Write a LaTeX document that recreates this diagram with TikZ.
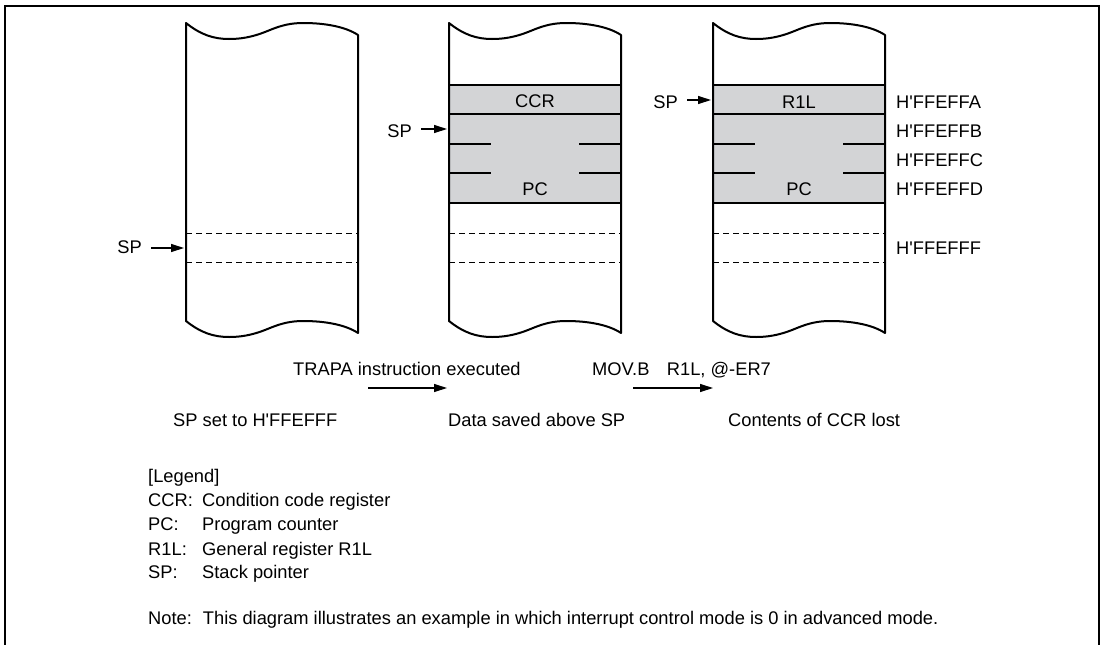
\documentclass[tikz,border=0pt]{standalone}
\usepackage{fontspec}
\newfontfamily\lib{Liberation Sans}
\usetikzlibrary{arrows.meta}
\definecolor{cellgray}{RGB}{211,212,214}
\tikzset{
  colline/.style={line width=2pt, line join=round},
  rowline/.style={line width=2pt},
  dline/.style={line width=1pt, dash pattern=on 6pt off 4pt},
  lbl/.style={font=\lib\fontsize{18.3}{22}\selectfont, inner sep=0pt, anchor=base},
  lblw/.style={lbl, anchor=base west},
  lble/.style={lbl, anchor=base east},
  sparrow/.style={line width=1.2pt, -{Triangle[length=13pt,width=8pt]}, shorten <=9pt, shorten >=2pt},
  steparrow/.style={line width=1.2pt, -{Triangle[length=13pt,width=8pt]}},
  frameline/.style={line width=2.5pt},
}
\newcommand\colshape[1]{%
  \draw[colline, shift={(#1,0)}]
    (0,23) .. controls (15,35) and (28,39) .. (43,39)
    .. controls (60,39) and (72,35) .. (84,30)
    .. controls (96,25) and (106,23) .. (117,23)
    .. controls (140,23) and (160,27) .. (172,35)
    -- (172,333)
    .. controls (160,325) and (140,321) .. (117,321)
    .. controls (106,321) and (96,323) .. (84,328)
    .. controls (72,333) and (60,337) .. (43,337)
    .. controls (28,337) and (15,333) .. (0,321)
    -- cycle;}
\newcommand\dashrows[1]{%
  \draw[dline] (#1,233) -- ++(172,0);
  \draw[dline] (#1,262) -- ++(172,0);}
\newcommand\grayrows[1]{%
  \fill[cellgray] (#1,85) rectangle ++(172,118);
  \draw[rowline] (#1,85) -- ++(172,0);
  \draw[rowline] (#1,114) -- ++(172,0);
  \draw[rowline] (#1,203) -- ++(172,0);
  \draw[rowline] (#1,144) -- ++(42,0);
  \draw[rowline] (#1+130,144) -- ++(42,0);
  \draw[rowline] (#1,173) -- ++(42,0);
  \draw[rowline] (#1+130,173) -- ++(42,0);}
\begin{document}
\begin{tikzpicture}[x=1pt,y=-1pt]
\useasboundingbox (0,0) rectangle (1103,645);
\fill[white] (0,0) rectangle (1103,645);
\draw[frameline] (5,660) -- (5,6) -- (1099,6) -- (1099,660);

% columns
\grayrows{449}
\grayrows{713}
\dashrows{186}
\dashrows{449}
\dashrows{713}
\colshape{186}
\colshape{449}
\colshape{713}

% cell labels
\node[lbl] (ccr) at (535,107.6) {CCR};
\node[lbl] (pcb) at (535,195) {PC};
\node[lbl] (rl) at (799,108) {R1L};
\node[lbl] (pcc) at (799,195) {PC};

% column edge targets
\coordinate (ea) at (186,248);
\coordinate (eb) at (449,129);
\coordinate (ec) at (713,100);

% SP pointers
\node[lble] (spa) at (142,253.6) {SP};
\node[lble] (spb) at (412,137.6) {SP};
\node[lble] (spc) at (678,108.3) {SP};
\draw[sparrow] (spa.east |- ea) -- (ea);
\draw[sparrow] (spb.east |- eb) -- (eb);
\draw[sparrow] (spc.east |- ec) -- (ec);

% addresses
\node[lblw] (adA) at (896,108.3) {H'FFEFFA};
\node[lblw] (adB) at (896,137.3) {H'FFEFFB};
\node[lblw] (adC) at (896,166) {H'FFEFFC};
\node[lblw] (adD) at (896,195) {H'FFEFFD};
\node[lblw] (adF) at (896,254) {H'FFEFFF};

% transitions
\node[lblw] (trapa) at (293,375.5) {TRAPA instruction executed};
\node[lblw] (mov) at (592,375.5) {MOV.B\hspace{0.95em}R1L, @-ER7};
\coordinate (t1s) at (368,388);
\coordinate (t1e) at (447,388);
\coordinate (t2s) at (633,388);
\coordinate (t2e) at (713,388);
\draw[steparrow] (t1s) -- (t1e);
\draw[steparrow] (t2s) -- (t2e);

% captions
\node[lblw] (capa) at (173,426) {SP set to H'FFEFFF};
\node[lblw] (capb) at (448,426) {Data saved above SP};
\node[lblw] (capc) at (728,426) {Contents of CCR lost};

% legend
\node[lblw] (leg) at (148,482) {[Legend]};
\node[lblw] (kccr) at (148,506) {CCR:};
\node[lblw] (dccr) at (202,506) {Condition code register};
\node[lblw] (kpc) at (148,530.5) {PC:};
\node[lblw] (dpc) at (202,530.5) {Program counter};
\node[lblw] (kr1l) at (148,555) {R1L:};
\node[lblw] (dr1l) at (202,555) {General register R1L};
\node[lblw] (ksp) at (148,578.5) {SP:};
\node[lblw] (dsp) at (202,578.5) {Stack pointer};
\node[lblw] (note) at (148,624.5) {Note:\hspace{0.6em}This diagram illustrates an example in which interrupt control mode is 0 in advanced mode.};
\end{tikzpicture}
\end{document}
